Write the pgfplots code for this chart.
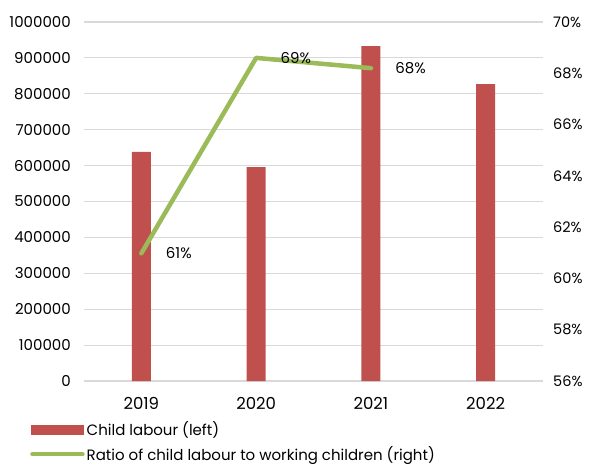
\documentclass[border=0pt]{standalone}
\usepackage{fontspec}
\setmainfont{Poppins}
\usepackage{pgfplots}
\pgfplotsset{compat=1.18}
\definecolor{barred}{HTML}{C0504D}
\definecolor{linegreen}{HTML}{9BBB59}
\definecolor{gridgray}{HTML}{D9D9D9}
\pgfplotsset{
  /pgf/number format/assume math mode=true,
  myaxis/.style={
    at={(0,0)}, anchor=south west,
    scale only axis, width=459pt, height=359pt,
    xmin=-0.5, xmax=3.5,
    axis line style={draw=none},
    major tick length=0pt,
    tick label style={font=\fontsize{15}{17}\selectfont, inner sep=0pt},
  }
}

\begin{document}
\begin{tikzpicture}
\useasboundingbox (-84pt,-85pt) rectangle (507pt,381pt);

% left axis: bars
\begin{axis}[
  myaxis,
  ymin=0, ymax=1000000,
  xtick={0,1,2,3}, xticklabels={2019,2020,2021,2022},
  xticklabel style={anchor=north, yshift=-16pt, font=\fontsize{16.5}{18}\selectfont},
  ytick={0,100000,...,1000000},
  scaled y ticks=false,
  yticklabel style={anchor=east, xshift=-13pt,
    /pgf/number format/fixed, /pgf/number format/1000 sep={}},
  ymajorgrids, grid style={gridgray, line width=1.2pt},
  ybar, bar width=19pt,
]
\addplot[fill=barred, draw=none] coordinates {
  (0,638000) (1,596000) (2,933000) (3,827000)
};
\end{axis}

% right axis: ratio line
\begin{axis}[
  myaxis,
  ymin=56, ymax=70,
  axis x line=none,
  axis y line*=right,
  ytick={56,58,...,70},
  yticklabel={\pgfmathprintnumber{\tick}\%},
  yticklabel style={anchor=west, xshift=10pt, font=\fontsize{14.5}{16}\selectfont},
  legend style={
    at={(-0.1176,-0.108)}, anchor=north west,
    draw=none, fill=none, inner sep=0pt,
    font=\fontsize{15}{17}\selectfont,
    cells={anchor=west}, row sep=5pt,
    /tikz/every even column/.append style={column sep=0pt},
  },
  legend cell align=left,
]
\addlegendimage{legend image code/.code={
  \fill[barred] (0pt,-4.5pt) rectangle (52pt,4.5pt);}}
\addlegendentry{Child labour (left)}

\addplot[linegreen, line width=4.5pt, line cap=round, line join=round,
  nodes near coords={\pgfmathprintnumber[fixed,precision=0]{\pgfplotspointmeta}\%},
  every node near coord/.style={anchor=west, xshift=19pt, text=black,
    font=\fontsize{15}{17}\selectfont},
  legend image code/.code={
    \draw[linegreen, line width=4.5pt, line cap=round] (1pt,0pt) -- (51pt,0pt);},
] coordinates {
  (0,60.98) (1,68.6) (2,68.2)
};
\addlegendentry{Ratio of child labour to working children (right)}
\end{axis}
\end{tikzpicture}
\end{document}
